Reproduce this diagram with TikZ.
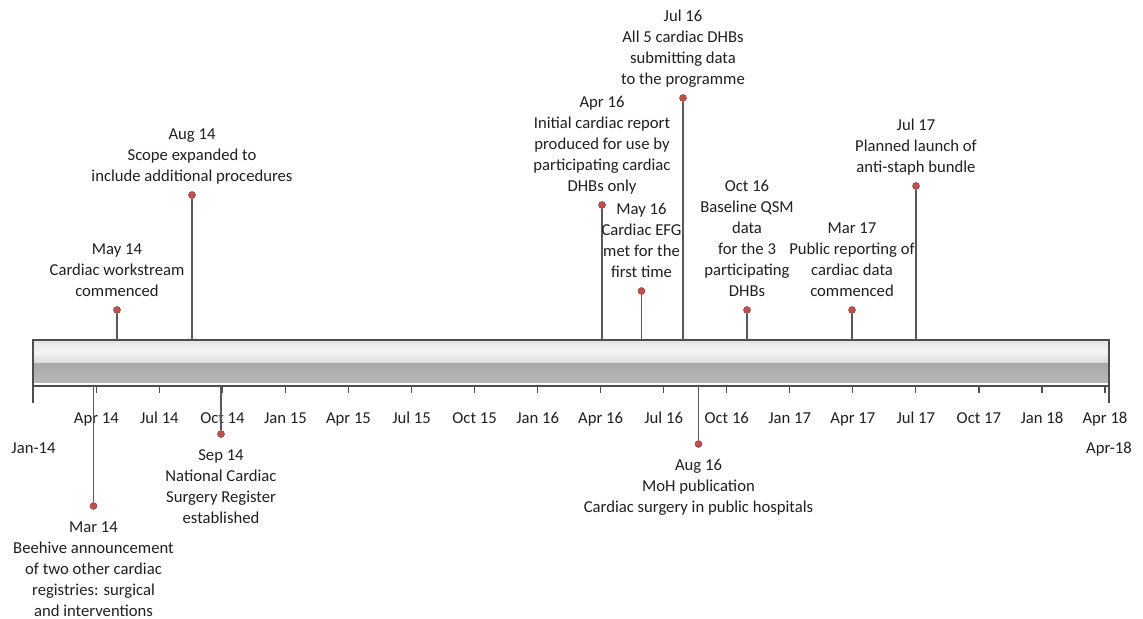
\documentclass[tikz,border=0pt]{standalone}
\usepackage{fontspec}
\setmainfont{Carlito}
\definecolor{txtgray}{HTML}{1F1F1F}
\definecolor{dotred}{HTML}{C0504D}
\definecolor{dotedge}{HTML}{8C3836}
\definecolor{stemgray}{HTML}{595959}
\definecolor{bardraw}{HTML}{4D4D4D}
\begin{document}
\begin{tikzpicture}[x=0.75pt,y=-0.75pt,
    every node/.style={font=\fontsize{12.5}{15.75}\selectfont, text=txtgray, inner sep=0pt, align=center},
    dot/.style={circle, fill=dotred, draw=dotedge, line width=0.4pt, minimum size=5.2pt},
    stem/.style={draw=stemgray, line width=0.9pt},
    tick/.style={draw=bardraw, line width=0.9pt},
    up/.style={anchor=south, yshift=5.5pt, execute at end node=\strut},
    down/.style={anchor=north, yshift=-11.5pt}]
    \useasboundingbox (0,0) rectangle (1143,618);
    % the bar
    \coordinate (bartop) at (33,340);
    \coordinate (barbot) at (33,386);
    \shade[top color=gray!22, bottom color=gray!30, middle color=gray!8] (33,340) rectangle (1109,363);
    \shade[top color=gray!68, bottom color=gray!56] (33,363) rectangle (1109,383);
    \fill[white] (33,383) rectangle (1109,384.5);
    \draw[bardraw, line width=0.8pt] (33,340) rectangle (1109,386);
    % ticks and quarter labels
    \draw[tick] (33,386) -- (33,403);
    \draw[tick] (1109,386) -- (1109,403);
    \foreach \lab [count=\k] in {Apr 14,Jul 14,Oct 14,Jan 15,Apr 15,Jul 15,Oct 15,Jan 16,Apr 16,Jul 16,Oct 16,Jan 17,Apr 17,Jul 17,Oct 17,Jan 18,Apr 18}
    {
        \draw[tick] (33.3+63.04*\k,386) -- ++(0,7);
        \node[anchor=base] (q\k) at (33.3+63.04*\k,423) {\lab};
    }
    \node[anchor=base] (start) at (33.5,453) {Jan-14};
    \node[anchor=base] (end) at (1109,453) {Apr-18};
    % events above the bar
    \node[dot] (may14) at (117,310) {};
    \node[dot] (aug14) at (192,195) {};
    \node[dot] (apr16) at (602,205) {};
    \node[dot] (may16) at (641.5,291) {};
    \node[dot] (jul16) at (683,98) {};
    \node[dot] (oct16) at (747,310) {};
    \node[dot] (mar17) at (852,310) {};
    \node[dot] (jul17) at (916,186) {};
    \foreach \ev in {may14,aug14,apr16,may16,jul16,oct16,mar17,jul17}
        \draw[stem] (\ev.south) -- (\ev |- bartop);
    \node[up] (lmay14) at (may14) {May 14\\Cardiac workstream\\commenced};
    \node[up] (laug14) at (aug14) {Aug 14\\Scope expanded to\\include additional procedures};
    \node[up] (lapr16) at (apr16) {Apr 16\\Initial cardiac report\\produced for use by\\participating cardiac\\DHBs only};
    \node[up] (lmay16) at (may16) {May 16\\Cardiac EFG\\met for the\\first time};
    \node[up] (ljul16) at (jul16) {Jul 16\\All 5 cardiac DHBs\\submitting data\\to the programme};
    \node[up] (loct16) at (oct16) {Oct 16\\Baseline QSM\\data\\for the 3\\participating\\DHBs};
    \node[up] (lmar17) at (mar17) {Mar 17\\Public reporting of\\cardiac data\\commenced};
    \node[up] (ljul17) at (jul17) {Jul 17\\Planned launch of\\anti-staph bundle};
    % events below the bar
    \node[dot] (mar14) at (93.5,506) {};
    \node[dot] (sep14) at (221,434) {};
    \node[dot] (aug16) at (698.5,444) {};
    \foreach \ev in {mar14,sep14,aug16}
        \draw[stem] (\ev |- barbot) -- (\ev.north);
    \node[down] (lmar14) at (mar14) {Mar 14\\Beehive announcement\\of two other cardiac\\registries: surgical\\and interventions};
    \node[down] (lsep14) at (sep14) {Sep 14\\National Cardiac\\Surgery Register\\established};
    \node[down] (laug16) at (aug16) {Aug 16\\MoH publication\\Cardiac surgery in public hospitals};
\end{tikzpicture}
\end{document}
